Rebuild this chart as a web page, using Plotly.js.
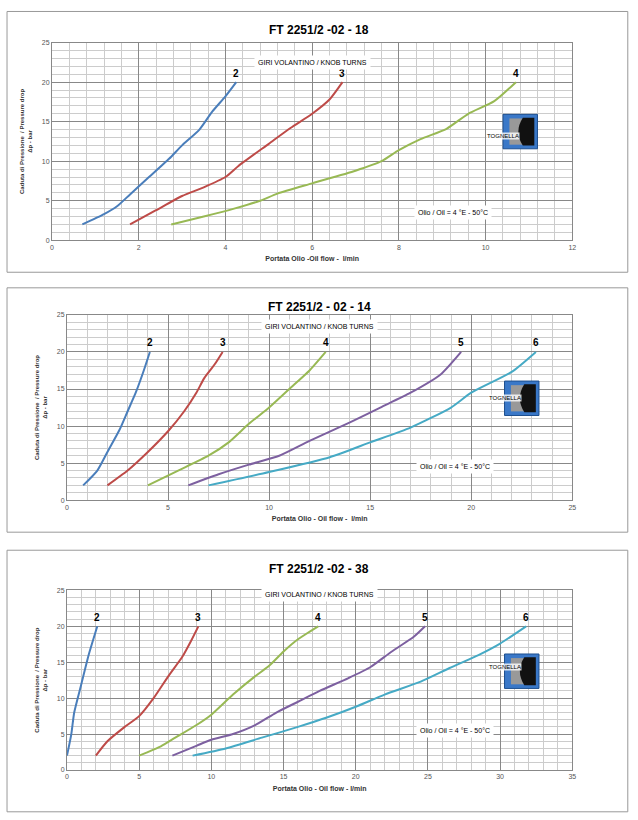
<!DOCTYPE html>
<html>
<head>
<meta charset="utf-8">
<script src="https://cdn.plot.ly/plotly-3.0.1.min.js"></script>
<style>body{margin:0;background:#fff}#chart{width:638px;height:820px}</style>
</head>
<body>
<div id="chart"></div>
<script>
// Chart 1: FT 2251/2 -02 - 18
const c1Turns = ['2', '3', '4'];
const c1X = [
    [0.7, 1.2, 1.5, 1.8, 2.2, 2.7, 3.0, 3.4, 3.7, 4.0, 4.25],
    [1.8, 2.4, 3.0, 3.5, 4.0, 4.3, 5.0, 5.5, 6.0, 6.4, 6.7],
    [2.75, 3.5, 4.2, 4.8, 5.2, 6.0, 7.0, 7.6, 8.0, 8.5, 9.1, 9.6, 10.2, 10.7]
];
const c1Y = [
    [2, 3.3, 4.3, 5.8, 7.8, 10.3, 12, 14, 16.3, 18.2, 20],
    [2, 3.8, 5.6, 6.7, 8, 9.4, 12.2, 14.2, 16, 17.8, 20],
    [2, 3, 4, 5, 5.9, 7.2, 8.8, 10, 11.4, 12.8, 14.1, 16, 17.6, 20]
];
// Chart 2: FT 2251/2 - 02 - 14
const c2Turns = ['2', '3', '4', '5', '6'];
const c2X = [
    [0.8, 1.5, 2.0, 2.6, 3.0, 3.4, 3.8, 4.1],
    [2.0, 3.0, 4.0, 5.0, 5.8, 6.4, 6.8, 7.3, 7.7],
    [4.0, 5.5, 7.0, 8.0, 9.0, 10.0, 11.0, 12.0, 12.8],
    [6.0, 7.5, 9.0, 10.5, 12.0, 14.0, 15.5, 17.0, 18.5, 19.5],
    [7.0, 10.0, 13.0, 15.0, 17.0, 19.0, 20.0, 22.0, 23.2]
];
const c2Y = [
    [2, 4, 6.5, 9.5, 12, 14.5, 17.5, 20],
    [2, 4, 6.5, 9.3, 12, 14.5, 16.5, 18.3, 20],
    [2, 4, 6, 7.8, 10.3, 12.5, 15, 17.5, 20],
    [2, 3.5, 4.8, 6, 8, 10.5, 12.5, 14.5, 17, 20],
    [2, 3.8, 5.8, 7.8, 9.8, 12.5, 14.5, 17.3, 20]
];
// Chart 3: FT 2251/2 -02 - 38
const c3Turns = ['2', '3', '4', '5', '6'];
const c3X = [
    [0.0, 0.3, 0.5, 1.0, 1.5, 2.1],
    [2.0, 2.8, 4.0, 5.0, 6.0, 7.0, 8.0, 8.6, 9.1],
    [5.0, 6.5, 7.5, 9.0, 10.0, 11.5, 13.0, 14.0, 15.0, 16.0, 17.4],
    [7.3, 9.0, 10.0, 11.5, 13.0, 14.5, 16.0, 17.5, 19.5, 21.0, 22.5, 24.0, 24.8],
    [8.7, 11.0, 13.5, 16.0, 18.0, 20.0, 22.0, 24.5, 26.5, 28.5, 30.0, 31.8]
];
const c3Y = [
    [2, 5, 8, 12, 16, 20],
    [2, 4, 6, 7.5, 10, 13, 15.8, 18, 20],
    [2, 3.3, 4.5, 6.3, 7.7, 10.5, 13, 14.5, 16.5, 18.2, 20],
    [2, 3.4, 4.2, 5, 6.2, 8, 9.5, 11, 12.8, 14.3, 16.5, 18.5, 20],
    [2, 3, 4.5, 6, 7.3, 8.8, 10.5, 12.3, 14.2, 16, 17.6, 20]
];

const colors = ['#4a7ebb', '#be4b48', '#98b954', '#7d60a0', '#46aac5'];
const FONT = 'Liberation Sans, Arial, sans-serif';

const panels = [
    { title: 'FT 2251/2 -02 - 18', xlab: 'Portata Olio -Oil flow -  l/min', xmax: 12, dx: 2, mx: 0.4,
      turns: c1Turns, xs: c1X, ys: c1Y, xd: [0.0815, 0.897], yd: [0.707, 0.948], box: [0.011, 0.668, 0.984, 0.986] },
    { title: 'FT 2251/2 - 02 - 14', xlab: 'Portata Olio - Oil flow -  l/min', xmax: 25, dx: 5, mx: 1,
      turns: c2Turns, xs: c2X, ys: c2Y, xd: [0.105, 0.897], yd: [0.390, 0.616], box: [0.011, 0.351, 0.984, 0.649] },
    { title: 'FT 2251/2 -02 - 38', xlab: 'Portata Olio - Oil flow - l/min', xmax: 35, dx: 5, mx: 1,
      turns: c3Turns, xs: c3X, ys: c3Y, xd: [0.105, 0.897], yd: [0.061, 0.280], box: [0.011, 0.010, 0.984, 0.329] }
];

const traces = [];
const layout = {
    width: 638, height: 820,
    margin: { l: 0, r: 0, t: 0, b: 0 },
    paper_bgcolor: '#fff', plot_bgcolor: '#fff',
    showlegend: false,
    font: { family: FONT, size: 7, color: '#555' },
    shapes: [], annotations: []
};

panels.forEach((p, i) => {
    const n = i === 0 ? '' : String(i + 1);
    const xa = 'x' + n, ya = 'y' + n;
    p.xs.forEach((xv, k) => {
        traces.push({
            x: xv, y: p.ys[k], xaxis: xa, yaxis: ya,
            type: 'scatter', mode: 'lines',
            line: { color: colors[k], width: 2, shape: 'spline', smoothing: 0.6 },
            hoverinfo: 'x+y'
        });
        layout.annotations.push({
            x: xv[xv.length - 1], y: 20, xref: xa, yref: ya, text: '<b>' + p.turns[k] + '</b>',
            showarrow: false, yshift: 9, font: { family: FONT, size: 10, color: '#000' }
        });
    });
    layout['xaxis' + n] = {
        domain: p.xd, anchor: ya, range: [0, p.xmax], dtick: p.dx, tick0: 0,
        showgrid: true, gridcolor: '#888', gridwidth: 1,
        minor: { dtick: p.mx, showgrid: true, gridcolor: '#ccc', gridwidth: 1 },
        showline: true, linecolor: '#888', mirror: true, zeroline: false,
        ticks: '', tickfont: { size: 7, color: '#555' },
        title: { text: '<b>' + p.xlab + '</b>', font: { size: 7, color: '#333' }, standoff: 6 }
    };
    layout['yaxis' + n] = {
        domain: p.yd, anchor: xa, range: [0, 25], dtick: 5,
        showgrid: true, gridcolor: '#888', gridwidth: 1,
        minor: { dtick: 1, showgrid: true, gridcolor: '#ccc', gridwidth: 1 },
        showline: true, linecolor: '#888', mirror: true, zeroline: false,
        ticks: '', tickfont: { size: 7, color: '#555' },
        title: { text: '<b>Caduta di Pressione  / Pressure drop<br>Δp - bar</b>', font: { size: 6, color: '#333' }, standoff: 8 }
    };
    // panel border
    layout.shapes.push({
        type: 'rect', xref: 'paper', yref: 'paper',
        x0: p.box[0], y0: p.box[1], x1: p.box[2], y1: p.box[3],
        line: { color: '#999', width: 1 }
    });
    // title
    layout.annotations.push({
        xref: 'paper', yref: 'paper', x: 0.5, y: p.box[3] - 0.012, yanchor: 'top',
        text: '<b>' + p.title + '</b>', showarrow: false,
        font: { family: FONT, size: 12, color: '#000' }
    });
    const xm = (p.xd[0] + p.xd[1]) / 2;
    const yh = p.yd[1] - p.yd[0];
    layout.annotations.push({
        xref: 'paper', yref: 'paper', x: xm, y: p.yd[0] + yh * 0.935,
        text: 'GIRI VOLANTINO / KNOB TURNS', showarrow: false, bgcolor: '#fff',
        font: { family: FONT, size: 7, color: '#000' }, borderpad: 3
    });
    layout.annotations.push({
        xref: 'paper', yref: 'paper', x: p.xd[0] + (p.xd[1] - p.xd[0]) * 0.845, y: p.yd[0] + yh * 0.18,
        text: 'Olio / Oil = 4 °E - 50°C', showarrow: false, bgcolor: '#fff',
        font: { family: FONT, size: 7, color: '#000' }, borderpad: 3
    });
    // logo
    const lx = p.xd[0] + (p.xd[1] - p.xd[0]) * 0.9, ly = p.yd[0] + yh * 0.55;
    const hw = 0.027, hh = 0.021;
    layout.shapes.push({
        type: 'rect', xref: 'paper', yref: 'paper',
        x0: lx - hw, x1: lx + hw, y0: ly - hh, y1: ly + hh,
        fillcolor: '#3a78c8', line: { color: '#1d4f8f', width: 1 }
    });
    layout.shapes.push({
        type: 'rect', xref: 'paper', yref: 'paper',
        x0: lx - 0.017, x1: lx + 0.004, y0: ly - 0.016, y1: ly + 0.016,
        fillcolor: '#999', line: { width: 0 }
    });
    layout.shapes.push({
        type: 'path', xref: 'paper', yref: 'paper',
        path: `M ${lx + 0.004} ${ly + 0.017} L ${lx + 0.022} ${ly + 0.017} L ${lx + 0.022} ${ly - 0.017} L ${lx + 0.004} ${ly - 0.017} Q ${lx - 0.01} ${ly} ${lx + 0.004} ${ly + 0.017} Z`,
        fillcolor: '#111', line: { width: 0 }
    });
    layout.annotations.push({
        xref: 'paper', yref: 'paper', x: lx, y: ly, text: 'TOGNELLA', showarrow: false,
        bgcolor: 'rgba(255,255,255,0.8)', borderpad: 0,
        font: { family: FONT, size: 6, color: '#000' }
    });
});

Plotly.newPlot('chart', traces, layout, { displayModeBar: false, staticPlot: true });
</script>
</body>
</html>
